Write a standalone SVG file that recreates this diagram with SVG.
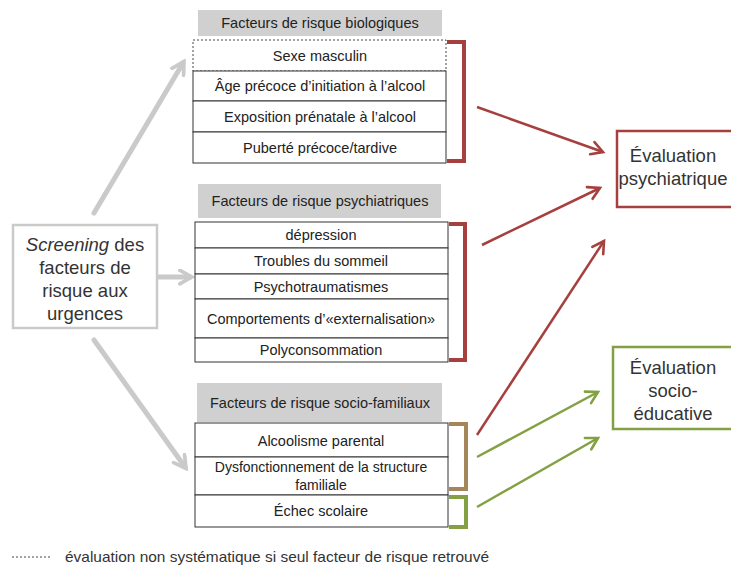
<svg xmlns="http://www.w3.org/2000/svg" width="731" height="567" viewBox="0 0 731 567">
<defs>
<style>
.t{font-family:"Liberation Sans",Arial,sans-serif;font-size:14.5px;fill:#222;text-anchor:middle}
.big{font-family:"Liberation Sans",Arial,sans-serif;font-size:18.5px;fill:#333;text-anchor:middle}
.hdr{fill:#d0d0d0}
.row{fill:#fff;stroke:#333;stroke-width:1}
.gray{stroke:#cacaca;stroke-width:5;fill:none;stroke-linecap:round}
.red{stroke:#a6403f;stroke-width:2.5;fill:none}
.grn{stroke:#83a043;stroke-width:2.5;fill:none}
.brk{fill:none;stroke-width:4}
</style>
<marker id="ag" viewBox="0 0 10 10" refX="7" refY="5" markerWidth="3.4" markerHeight="3.4" orient="auto" markerUnits="strokeWidth">
<path d="M1,1 L8,5 L1,9" fill="none" stroke="#cacaca" stroke-width="2.2" stroke-linecap="round"/>
</marker>
<marker id="ar" viewBox="0 0 10 10" refX="8" refY="5" markerWidth="6.5" markerHeight="6.5" orient="auto" markerUnits="strokeWidth">
<path d="M1,1 L8,5 L1,9" fill="none" stroke="#a6403f" stroke-width="1.6" stroke-linecap="round"/>
</marker>
<marker id="an" viewBox="0 0 10 10" refX="8" refY="5" markerWidth="6.5" markerHeight="6.5" orient="auto" markerUnits="strokeWidth">
<path d="M1,1 L8,5 L1,9" fill="none" stroke="#83a043" stroke-width="1.6" stroke-linecap="round"/>
</marker>
</defs>
<rect width="731" height="567" fill="#fff"/>

<g id="connectors">
<line class="gray" x1="94" y1="213" x2="183" y2="63" marker-end="url(#ag)"/>
<line class="gray" x1="159" y1="277" x2="190" y2="277" marker-end="url(#ag)"/>
<line class="gray" x1="94" y1="340" x2="185" y2="467" marker-end="url(#ag)"/>
<line class="red" x1="477" y1="107" x2="603" y2="152" marker-end="url(#ar)"/>
<line class="red" x1="482" y1="245" x2="600" y2="188" marker-end="url(#ar)"/>
<line class="red" x1="477" y1="435" x2="604" y2="241" marker-end="url(#ar)"/>
<line class="grn" x1="477" y1="457" x2="598" y2="392" marker-end="url(#an)"/>
<line class="grn" x1="477" y1="507" x2="598" y2="438" marker-end="url(#an)"/>
</g>

<g id="screening">
<rect x="13" y="225" width="144" height="103" fill="#fff" stroke="#cacaca" stroke-width="2.5"/>
<text class="big" x="85" y="251"><tspan font-style="italic">Screening</tspan> des</text>
<text class="big" x="85" y="274">facteurs de</text>
<text class="big" x="85" y="297">risque aux</text>
<text class="big" x="85" y="320">urgences</text>
</g>

<g id="bio">
<rect class="hdr" x="198" y="10" width="244" height="26"/>
<text class="t" x="320" y="28">Facteurs de risque biologiques</text>
<rect x="193" y="40" width="253" height="31" fill="#fff" stroke="#444" stroke-width="1" stroke-dasharray="2,2"/>
<text class="t" x="320" y="61">Sexe masculin</text>
<rect class="row" x="193" y="71" width="253" height="30"/>
<text class="t" x="320" y="91">Âge précoce d’initiation à l’alcool</text>
<rect class="row" x="193" y="101" width="253" height="31"/>
<text class="t" x="320" y="122">Exposition prénatale à l’alcool</text>
<rect class="row" x="193" y="132" width="253" height="31"/>
<text class="t" x="320" y="153">Puberté précoce/tardive</text>
<path class="brk" stroke="#a6403f" d="M447,42 H464 V161 H447"/>
</g>

<g id="psy">
<rect class="hdr" x="198" y="184" width="243" height="34"/>
<text class="t" x="320" y="206">Facteurs de risque psychiatriques</text>
<rect class="row" x="195" y="222" width="253" height="26"/>
<text class="t" x="321" y="240">dépression</text>
<rect class="row" x="195" y="248" width="253" height="26"/>
<text class="t" x="321" y="266">Troubles du sommeil</text>
<rect class="row" x="195" y="274" width="253" height="25"/>
<text class="t" x="321" y="292">Psychotraumatismes</text>
<rect class="row" x="195" y="299" width="253" height="39"/>
<text class="t" x="321" y="324">Comportements d’«externalisation»</text>
<rect class="row" x="195" y="338" width="253" height="24"/>
<text class="t" x="321" y="355">Polyconsommation</text>
<path class="brk" stroke="#a6403f" d="M449,224 H465 V360 H449"/>
</g>

<g id="socio">
<rect class="hdr" x="197" y="383" width="245" height="39"/>
<text class="t" x="320" y="408">Facteurs de risque socio-familiaux</text>
<rect class="row" x="195" y="423" width="253" height="34"/>
<text class="t" x="321" y="446">Alcoolisme parental</text>
<rect class="row" x="195" y="457" width="253" height="38"/>
<text class="t" x="321" y="472" style="font-size:14px">Dysfonctionnement de la structure</text>
<text class="t" x="321" y="490" style="font-size:14px">familiale</text>
<rect class="row" x="195" y="495" width="253" height="32"/>
<text class="t" x="321" y="516">Échec scolaire</text>
<path class="brk" stroke="#a5865a" d="M449,424 H466 V489 H449"/>
<path class="brk" stroke="#83a043" d="M449,497 H466 V527 H449"/>
</g>

<g id="eval-psy">
<rect x="617" y="131" width="116" height="76" fill="#fff" stroke="#a6403f" stroke-width="2.5"/>
<text class="big" x="673" y="162">Évaluation</text>
<text class="big" x="673" y="185">psychiatrique</text>
</g>

<g id="eval-socio">
<rect x="613" y="347" width="120" height="82" fill="#fff" stroke="#83a043" stroke-width="2.5"/>
<text class="big" x="673" y="374">Évaluation</text>
<text class="big" x="673" y="397">socio-</text>
<text class="big" x="673" y="420">éducative</text>
</g>

<g id="legend">
<line x1="12" y1="557" x2="50" y2="557" stroke="#444" stroke-width="1" stroke-dasharray="2,2"/>
<text x="65" y="562" font-family="'Liberation Sans',Arial,sans-serif" font-size="14.5" fill="#333" textLength="424" lengthAdjust="spacingAndGlyphs">évaluation non systématique si seul facteur de risque retrouvé</text>
</g>
</svg>
